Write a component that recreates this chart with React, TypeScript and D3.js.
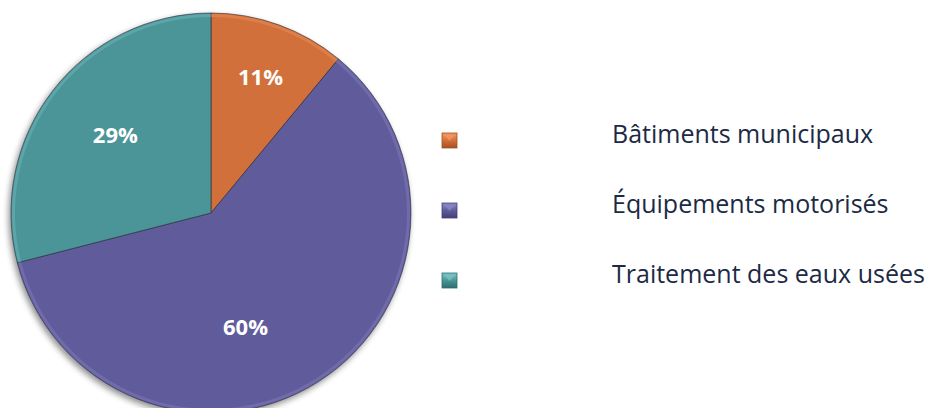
import React from "react";
import * as d3 from "d3";

const categories = ["Bâtiments municipaux", "Équipements motorisés", "Traitement des eaux usées"];
const values = [11, 60, 29];
const colors = ["#D2703A", "#605C9C", "#4B9497"];
const lightColors = ["#F39A63", "#8D89C9", "#7CC6C8"];
const darkColors = ["#A5511F", "#423F77", "#2E6E71"];
// label placement: [radius factor, angular shift in degrees]
const labelPlacement: [number, number][] = [
  [0.73, 0],
  [0.59, 15.4],
  [0.62, 1.7],
];

const W = 934;
const H = 408;
const cx = 211;
const cy = 213;
const R = 200;
const FONT = "'Open Sans', Lato, sans-serif";

export default function App() {
  const pie = d3.pie<number>().sort(null).value((d) => d)(values);
  const arc = d3.arc<d3.PieArcDatum<number>>().innerRadius(0).outerRadius(R);
  const rimArc = d3.arc<d3.PieArcDatum<number>>().innerRadius(R - 4).outerRadius(R - 1);
  const total = d3.sum(values);
  const legendY = d3.scalePoint<string>().domain(categories).range([143, 283]);

  return (
    <svg width={W} height={H} style={{ position: "absolute", left: 0, top: 0, background: "#fff" }}>
      <defs>
        <filter id="sh" x="-20%" y="-20%" width="140%" height="140%">
          <feGaussianBlur in="SourceAlpha" stdDeviation="3" />
          <feOffset dx="-2" dy="3" result="b" />
          <feComponentTransfer>
            <feFuncA type="linear" slope="0.45" />
          </feComponentTransfer>
          <feMerge>
            <feMergeNode />
            <feMergeNode in="SourceGraphic" />
          </feMerge>
        </filter>
        {colors.map((c, i) => (
          <linearGradient key={i} id={`lg${i}`} x1="0" y1="0" x2="0" y2="1">
            <stop offset="0" stopColor={lightColors[i]} />
            <stop offset="0.5" stopColor={c} />
            <stop offset="1" stopColor={darkColors[i]} />
          </linearGradient>
        ))}
      </defs>
      <g transform={`translate(${cx},${cy})`} filter="url(#sh)">
        {pie.map((p, i) => (
          <path key={i} d={arc(p) || ""} fill={colors[i]} stroke="#2a2a3a" strokeWidth={0.6} />
        ))}
        {pie.map((p, i) => (
          <path key={"rim" + i} d={rimArc(p) || ""} fill={lightColors[i]} opacity={0.35} />
        ))}
      </g>
      <g transform={`translate(${cx},${cy})`}>
        {pie.map((p, i) => {
          const [rf, shift] = labelPlacement[i];
          const a = (p.startAngle + p.endAngle) / 2 + (shift * Math.PI) / 180;
          const x = Math.sin(a) * R * rf;
          const y = -Math.cos(a) * R * rf;
          return (
            <text
              key={i}
              x={x}
              y={y}
              textAnchor="middle"
              dominantBaseline="central"
              fill="#fff"
              fontFamily={FONT}
              fontWeight="bold"
              fontSize={22}
            >
              {Math.round((values[i] / total) * 100)}%
            </text>
          );
        })}
      </g>
      {categories.map((c, i) => {
        const y = legendY(c) as number;
        return (
          <g key={c}>
            <rect x={442} y={y - 10} width={15} height={15} fill={`url(#lg${i})`} stroke={darkColors[i]} strokeWidth={0.8} />
            <path d={`M${444},${y - 8} L${455},${y - 8} L${449.5},${y - 2} Z`} fill={lightColors[i]} opacity={0.7} />
            <text x={612} y={y} fill="#1C2A45" fontFamily={FONT} fontSize={25}>
              {c}
            </text>
          </g>
        );
      })}
    </svg>
  );
}
